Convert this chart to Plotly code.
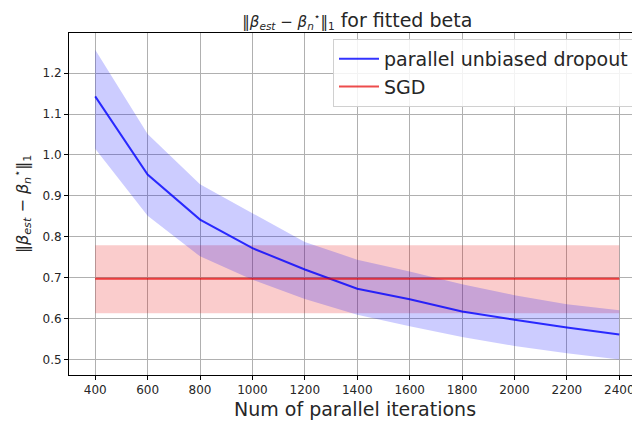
import plotly.graph_objects as go

iters = [400, 600, 800, 1000, 1200, 1400, 1600, 1800, 2000, 2200, 2400]
dropout_mean = [1.143, 0.952, 0.842, 0.772, 0.720, 0.673, 0.647, 0.617, 0.597, 0.578, 0.561]
dropout_upper = [1.257, 1.051, 0.928, 0.858, 0.787, 0.744, 0.715, 0.684, 0.657, 0.635, 0.620]
dropout_lower = [1.015, 0.851, 0.752, 0.695, 0.648, 0.609, 0.581, 0.555, 0.533, 0.515, 0.500]
sgd_mean = 0.697
sgd_upper = 0.779
sgd_lower = 0.613
y_ticks = [0.5, 0.6, 0.7, 0.8, 0.9, 1.0, 1.1, 1.2]
x_ticks = iters

FONT = "DejaVu Sans"
INK = "#262626"
MATH = "‖<i>β</i><sub><i>est</i></sub> − <i>β</i><sub><i>n</i></sub><sup>⋆</sup>‖<sub>1</sub>"

# page body has an 8px margin; figure is sized to end at the window edge
W, H, OFF = 632, 416, 8
ML, MT, MB = 69 - OFF, 33 - OFF, 49
PW, PH = W - ML, H - MT - MB

fig = go.Figure()

# SGD band
fig.add_trace(go.Scatter(
    x=iters + iters[::-1],
    y=[sgd_upper] * len(iters) + [sgd_lower] * len(iters),
    fill="toself", fillcolor="rgba(230,0,0,0.2)", line=dict(width=0),
    hoverinfo="skip", showlegend=False, mode="lines"))
# dropout band
fig.add_trace(go.Scatter(
    x=iters + iters[::-1],
    y=dropout_upper + dropout_lower[::-1],
    fill="toself", fillcolor="rgba(0,0,255,0.2)", line=dict(width=0),
    hoverinfo="skip", showlegend=False, mode="lines"))
fig.add_trace(go.Scatter(
    x=iters, y=dropout_mean, mode="lines", name="parallel unbiased dropout",
    line=dict(color="rgba(0,0,255,0.8)", width=2)))
fig.add_trace(go.Scatter(
    x=iters, y=[sgd_mean] * len(iters), mode="lines", name="SGD",
    line=dict(color="rgba(230,0,0,0.7)", width=2)))

fig.update_layout(
    width=W, height=H,
    margin=dict(l=ML, r=0, t=MT, b=MB, pad=0),
    paper_bgcolor="white", plot_bgcolor="white",
    font=dict(family=FONT, color=INK, size=12),
    title=dict(
        text='<span style="font-size:15px">' + MATH + '</span> for fitted beta',
        x=0.505, xanchor="center", xref="paper",
        y=1 - (20 - OFF) / H, yanchor="middle", yref="container",
        font=dict(size=19, family=FONT, color=INK)),
    legend=dict(
        x=(333 - 69) / PW, y=1 - (39 - 33) / PH, xanchor="left", yanchor="top",
        bgcolor="rgba(255,255,255,0.85)", bordercolor="#d0d0d0", borderwidth=1,
        font=dict(size=19, family=FONT, color=INK),
        tracegroupgap=0, itemwidth=40),
    showlegend=True,
    annotations=[
        dict(text=MATH, textangle=-90, x=-(69 - 22) / PW, y=0.5,
             xref="paper", yref="paper", xanchor="center", yanchor="middle",
             showarrow=False, font=dict(size=16, family=FONT, color=INK)),
        dict(text="Num of parallel iterations", x=0.5, y=-(409 - 375) / PH,
             xref="paper", yref="paper", xanchor="center", yanchor="middle",
             showarrow=False, font=dict(size=19, family=FONT, color=INK)),
    ],
)
fig.update_xaxes(
    range=[300, 2479], tickvals=x_ticks, ticktext=[str(v) for v in x_ticks],
    automargin=False,
    showgrid=True, gridcolor="#b0b0b0", gridwidth=1,
    showline=True, linecolor="black", linewidth=1, mirror=True,
    ticks="outside", ticklen=4, tickcolor="black",
    tickfont=dict(size=12, family=FONT, color=INK),
    zeroline=False)
fig.update_yaxes(
    range=[0.462, 1.298], tickvals=y_ticks, tickformat=".1f",
    automargin=False,
    showgrid=True, gridcolor="#b0b0b0", gridwidth=1,
    showline=True, linecolor="black", linewidth=1, mirror=False,
    ticks="outside", ticklen=4, tickcolor="black",
    tickfont=dict(size=12, family=FONT, color=INK),
    zeroline=False)

fig.write_html("out.html")
